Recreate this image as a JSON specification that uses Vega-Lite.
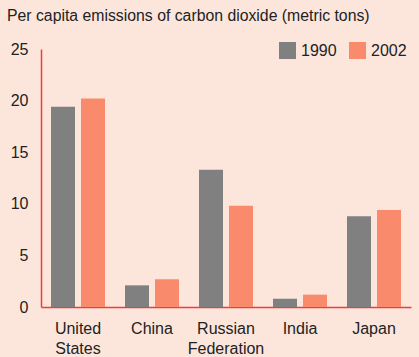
{
  "$schema": "https://vega.github.io/schema/vega-lite/v6.json",
  "width": 370,
  "height": 258,
  "autosize": {"type": "none"},
  "padding": {"left": 41, "top": 49, "right": 8, "bottom": 50},
  "background": "#fce6dc",
  "title": {
    "text": "Per capita emissions of carbon dioxide (metric tons)",
    "anchor": "start",
    "frame": "group",
    "dx": -34,
    "offset": 16,
    "font": "Liberation Sans",
    "fontSize": 15.8,
    "fontWeight": "normal",
    "color": "#222222"
  },
  "data": {
    "values": [
      {"country": "United States", "year": "1990", "value": 19.4},
      {"country": "United States", "year": "2002", "value": 20.2},
      {"country": "China", "year": "1990", "value": 2.1},
      {"country": "China", "year": "2002", "value": 2.7},
      {"country": "Russian Federation", "year": "1990", "value": 13.3},
      {"country": "Russian Federation", "year": "2002", "value": 9.8},
      {"country": "India", "year": "1990", "value": 0.8},
      {"country": "India", "year": "2002", "value": 1.2},
      {"country": "Japan", "year": "1990", "value": 8.8},
      {"country": "Japan", "year": "2002", "value": 9.4}
    ]
  },
  "mark": {"type": "bar"},
  "encoding": {
    "x": {
      "field": "country",
      "type": "nominal",
      "sort": null,
      "title": null,
      "scale": {"paddingInner": 0.27, "paddingOuter": 0.135},
      "axis": {
        "labelAngle": 0,
        "labelExpr": "split(datum.label, ' ')",
        "labelLineHeight": 20,
        "labelPadding": 21,
        "ticks": false,
        "domainColor": "#f23c3c",
        "domainWidth": 1.5,
        "labelFont": "Liberation Sans",
        "labelFontSize": 16,
        "labelColor": "#222222"
      }
    },
    "xOffset": {
      "field": "year",
      "type": "nominal",
      "scale": {"paddingInner": 0.2, "paddingOuter": 0}
    },
    "y": {
      "field": "value",
      "type": "quantitative",
      "title": null,
      "scale": {"domain": [0, 25]},
      "axis": {
        "values": [0, 5, 10, 15, 20, 25],
        "grid": false,
        "ticks": false,
        "labelPadding": 13,
        "domainColor": "#f23c3c",
        "domainWidth": 1.5,
        "labelFont": "Liberation Sans",
        "labelFontSize": 16,
        "labelColor": "#222222"
      }
    },
    "color": {
      "field": "year",
      "type": "nominal",
      "scale": {"domain": ["1990", "2002"], "range": ["#808080", "#f98b6c"]},
      "legend": {
        "title": null,
        "orient": "none",
        "direction": "horizontal",
        "legendX": 238,
        "legendY": -7,
        "symbolType": "square",
        "symbolSize": 289,
        "symbolStrokeWidth": 0,
        "symbolOpacity": 1,
        "labelFont": "Liberation Sans",
        "labelFontSize": 16,
        "labelColor": "#222222",
        "columnPadding": 12,
        "labelOffset": 5
      }
    }
  },
  "config": {
    "view": {"stroke": null},
    "axis": {"labelBaseline": "middle"}
  }
}
